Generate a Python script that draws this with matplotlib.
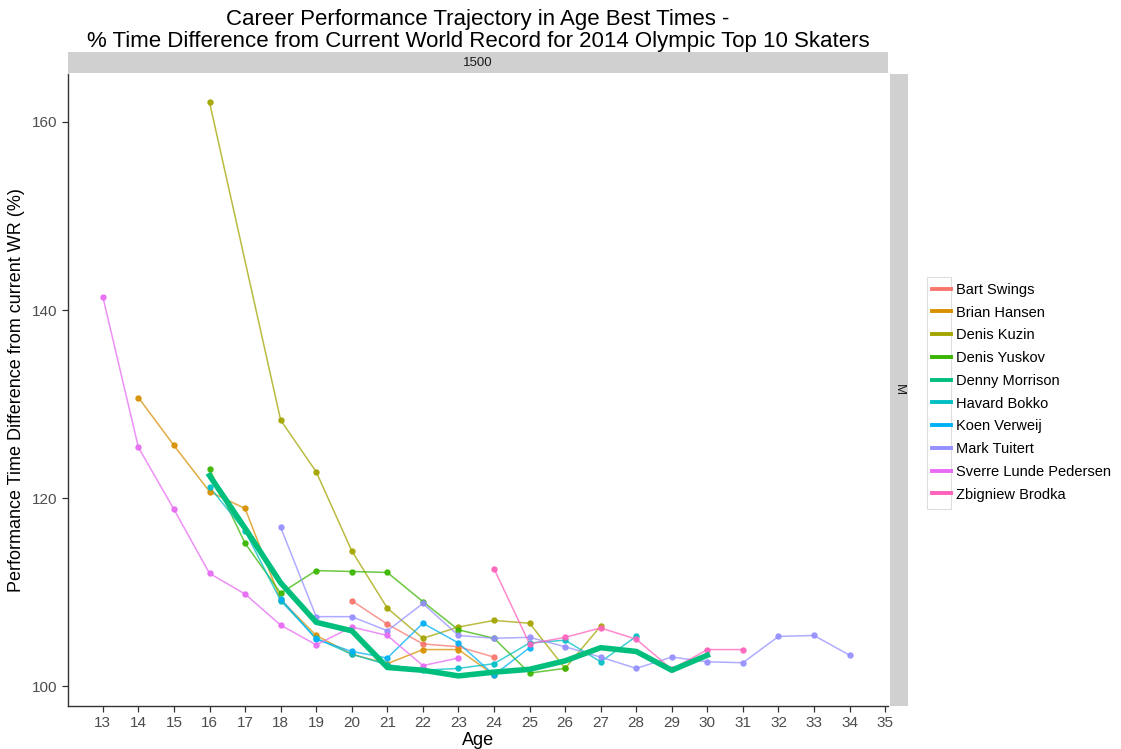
import matplotlib
matplotlib.use("Agg")
import matplotlib.pyplot as plt
import matplotlib.patches as mpatches
import numpy as np

plt.rcParams['font.family'] = ['Liberation Sans', 'DejaVu Sans']

# Ages and % difference from current WR
bart_ages = [20, 21, 22, 23, 24]
bart_vals = [109.1, 106.6, 104.5, 104.2, 103.1]

brian_ages = [14, 15, 16, 17, 18, 19, 20, 21, 22, 23, 24]
brian_vals = [130.7, 125.6, 120.7, 118.9, 109.2, 105.4, 103.4, 102.4, 103.9, 103.9, 101.2]

kuzin_ages = [16, 18, 19, 20, 21, 22, 23, 24, 25, 26, 27]
kuzin_vals = [162.1, 128.3, 122.8, 114.4, 108.3, 105.1, 106.3, 107.0, 106.7, 101.9, 106.4]

yuskov_ages = [16, 17, 18, 19, 20, 21, 22, 23, 24, 25, 26]
yuskov_vals = [123.1, 115.2, 109.9, 112.3, 112.2, 112.1, 109.0, 106.0, 105.1, 101.4, 101.9]

denny_ages = [16, 17, 18, 19, 20, 21, 22, 23, 24, 25, 26, 27, 28, 29, 30]
denny_vals = [122.4, 116.8, 111.0, 106.8, 105.9, 102.0, 101.7, 101.1, 101.5, 101.8, 102.7, 104.1, 103.7, 101.7, 103.3]

bokko_ages = [16, 17, 18, 19, 20, 21, 22, 23, 24, 25, 26, 27, 28]
bokko_vals = [121.2, 116.5, 109.1, 105.1, 103.4, 102.3, 101.7, 101.9, 102.4, 104.6, 104.9, 102.6, 105.3]

koen_ages = [18, 19, 20, 21, 22, 23, 24, 25]
koen_vals = [109.3, 105.0, 103.7, 103.0, 106.7, 104.6, 101.2, 104.1]

mark_ages = [18, 19, 20, 21, 22, 23, 24, 25, 26, 27, 28, 29, 30, 31, 32, 33, 34]
mark_vals = [116.9, 107.4, 107.4, 105.9, 108.8, 105.4, 105.1, 105.2, 104.2, 103.1, 101.9, 103.1, 102.6, 102.5, 105.3, 105.4, 103.3]

sverre_ages = [13, 14, 15, 16, 17, 18, 19, 20, 21, 22, 23]
sverre_vals = [141.4, 125.4, 118.8, 112.0, 109.8, 106.5, 104.4, 106.3, 105.4, 102.2, 103.0]

zbig_ages = [24, 25, 26, 27, 28, 29, 30, 31]
zbig_vals = [112.5, 104.5, 105.2, 106.2, 105.0, 101.8, 103.9, 103.9]

skaters = ["Bart Swings", "Brian Hansen", "Denis Kuzin", "Denis Yuskov", "Denny Morrison",
           "Havard Bokko", "Koen Verweij", "Mark Tuitert", "Sverre Lunde Pedersen", "Zbigniew Brodka"]
series = [(bart_ages, bart_vals), (brian_ages, brian_vals), (kuzin_ages, kuzin_vals),
          (yuskov_ages, yuskov_vals), (denny_ages, denny_vals), (bokko_ages, bokko_vals),
          (koen_ages, koen_vals), (mark_ages, mark_vals), (sverre_ages, sverre_vals),
          (zbig_ages, zbig_vals)]
colors = ["#F8766D", "#D89000", "#A3A500", "#39B600", "#00BF7D",
          "#00BFC4", "#00B0F6", "#9590FF", "#E76BF3", "#FF62BC"]
highlight = "Denny Morrison"

W, H = 1121, 749
fig = plt.figure(figsize=(W / 100, H / 100), dpi=100)
ax = fig.add_axes([68 / W, 1 - 706 / H, 820 / W, 632 / H])

handles = []
for name, (ages, vals), col in zip(skaters, series, colors):
    if name == highlight:
        ax.plot(ages, vals, color=col, lw=4.0, solid_joinstyle='round', zorder=5)
    else:
        ax.plot(ages, vals, color=col, lw=1.1, alpha=0.75, zorder=3)
        ax.plot(ages, vals, 'o', color=col, ms=3.6, alpha=0.9, zorder=4)
    handles.append(plt.Line2D([], [], color=col, lw=2.8, label=name))

ax.set_xlim(12.02, 35.08)
ax.set_ylim(97.9, 165.1)
ax.set_xticks(range(13, 36))
ax.set_yticks([100, 120, 140, 160])
for s in ['top', 'right']:
    ax.spines[s].set_visible(False)
for s in ['left', 'bottom']:
    ax.spines[s].set_color('#333333')
    ax.spines[s].set_linewidth(1.0)
ax.tick_params(colors='#333333', labelcolor='#4D4D4D', labelsize=11, length=4, width=0.9)
ax.set_xlabel("Age", fontsize=13, labelpad=1)
ax.set_ylabel("Performance Time Difference from current WR (%)", fontsize=13, labelpad=5)

# facet strips
top = fig.add_axes([68 / W, 1 - 73 / H, 820 / W, 21 / H])
top.set_facecolor('#D0D0D0')
top.set_xticks([]); top.set_yticks([])
for s in top.spines.values():
    s.set_visible(False)
top.text(0.5, 0.5, "1500", ha='center', va='center', fontsize=9.5, color='#1A1A1A')

side = fig.add_axes([890 / W, 1 - 706 / H, 18 / W, 632 / H])
side.set_facecolor('#D0D0D0')
side.set_xticks([]); side.set_yticks([])
for s in side.spines.values():
    s.set_visible(False)
side.text(0.5, 0.5, "M", ha='center', va='center', rotation=-90, fontsize=9.5, color='#1A1A1A')

fig.text(478 / W, 1 - 19 / H, "Career Performance Trajectory in Age Best Times -",
         ha='center', va='center', fontsize=16)
fig.text(478 / W, 1 - 41 / H,
         "% Time Difference from Current World Record for 2014 Olympic Top 10 Skaters",
         ha='center', va='center', fontsize=16)

leg = fig.legend(handles=handles, loc='upper left', bbox_to_anchor=(926 / W, 1 - 277 / H),
                 frameon=False, fontsize=10.5, handlelength=1.3, handletextpad=0.35,
                 labelspacing=0.6, borderaxespad=0)
fig.add_artist(mpatches.Rectangle((927 / W, 1 - 509 / H), 24 / W, 232 / H,
                                  transform=fig.transFigure, fill=False,
                                  edgecolor='#DDDDDD', lw=0.8))

fig.savefig("out.png", dpi=100)
